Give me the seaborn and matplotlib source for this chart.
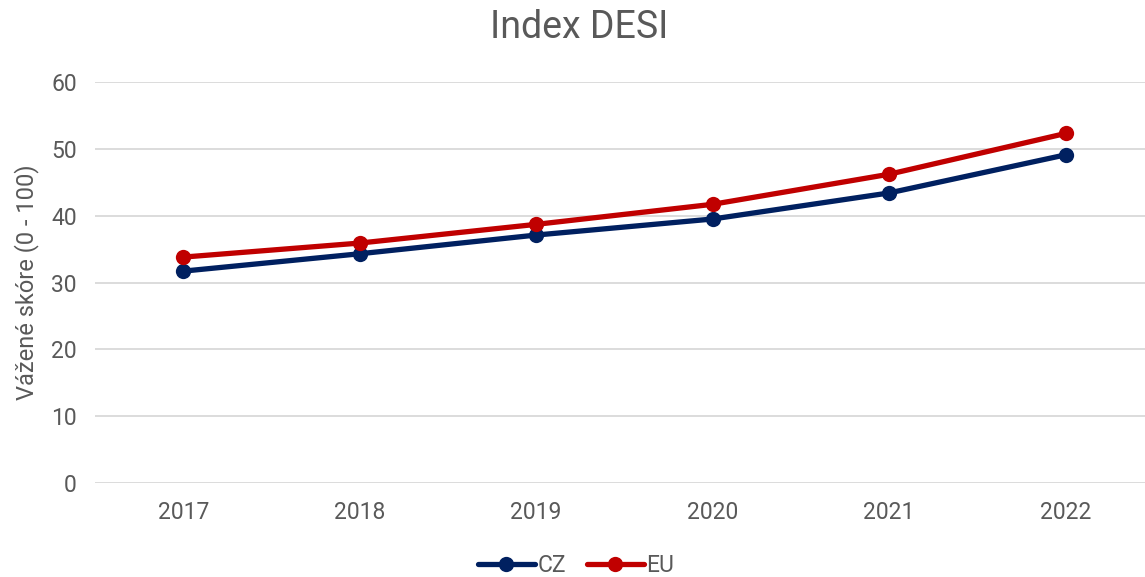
import pandas as pd
import matplotlib.pyplot as plt
import seaborn as sns

years = ['2017', '2018', '2019', '2020', '2021', '2022']
cz = [31.7, 34.3, 37.1, 39.5, 43.4, 49.1]
eu = [33.8, 35.9, 38.7, 41.7, 46.2, 52.3]

df = pd.DataFrame({
    'rok': years * 2,
    'skore': cz + eu,
    'zeme': ['CZ'] * len(years) + ['EU'] * len(years),
})

sns.set_style('white')
plt.rcParams['font.family'] = ['Roboto', 'DejaVu Sans']
grey = '#595959'

fig = plt.figure(figsize=(11.45, 5.77), dpi=100)
ax = fig.add_axes([95 / 1145, 1 - 483 / 577, 1 - 95 / 1145, 401 / 577])

sns.lineplot(data=df, x='rok', y='skore', hue='zeme',
             palette={'CZ': '#002060', 'EU': '#C00000'},
             marker='o', markersize=11, markeredgewidth=0,
             linewidth=3.8, ax=ax)

ax.set_ylim(0, 60)
ax.set_yticks(range(0, 61, 10))
ax.set_xlim(-0.5, 5.45)
ax.grid(axis='y', color='#d9d9d9', linewidth=1.3)
ax.set_axisbelow(True)
for s in ax.spines.values():
    s.set_visible(False)
ax.tick_params(axis='both', length=0, labelsize=16.5, labelcolor=grey)
ax.tick_params(axis='y', pad=13)
ax.tick_params(axis='x', pad=13)
ax.set_xlabel('')
ax.set_ylabel('Vážené skóre (0 - 100)', fontsize=17, color=grey, labelpad=9)
fig.suptitle('Index DESI', fontsize=27, color=grey, y=0.985, x=0.506)

ax.legend(loc='upper center', bbox_to_anchor=(0.458, -0.125), ncol=2, frameon=False,
          fontsize=16.5, labelcolor=grey, handlelength=2.5, handletextpad=0.1,
          columnspacing=0.9)

fig.savefig('out.png', dpi=100)
